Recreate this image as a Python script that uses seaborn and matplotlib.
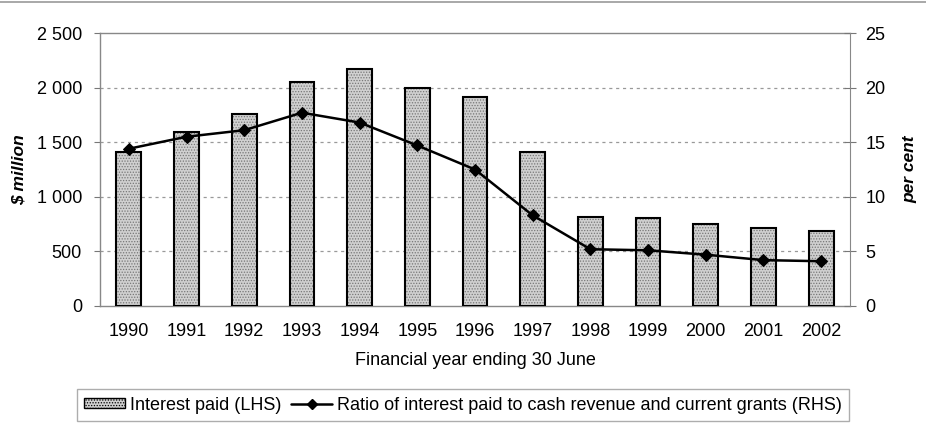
import matplotlib
matplotlib.use("Agg")
import matplotlib.pyplot as plt
import seaborn as sns
import pandas as pd
from matplotlib.patches import Patch
from matplotlib.lines import Line2D
from matplotlib.ticker import FuncFormatter

years = ["1990", "1991", "1992", "1993", "1994", "1995", "1996",
         "1997", "1998", "1999", "2000", "2001", "2002"]
interest_paid = [1410, 1590, 1760, 2050, 2170, 2000, 1915,
                 1410, 818, 806, 754, 711, 684]
ratio_pct = [14.4, 15.5, 16.1, 17.7, 16.8, 14.7, 12.5,
             8.3, 5.2, 5.1, 4.7, 4.2, 4.1]
bar_label = "Interest paid (LHS)"
line_label = "Ratio of interest paid to cash revenue and current grants (RHS)"

sns.set_style("white")
plt.rcParams["font.family"] = ["Liberation Sans", "DejaVu Sans"]
plt.rcParams["text.color"] = "black"
plt.rcParams["axes.labelcolor"] = "black"
plt.rcParams["xtick.color"] = "black"
plt.rcParams["ytick.color"] = "black"
plt.rcParams["hatch.linewidth"] = 0.6
plt.rcParams["hatch.color"] = "#777777"

FS = 13

df = pd.DataFrame({"year": years, "interest": interest_paid, "ratio": ratio_pct})

fig = plt.figure(figsize=(9.26, 4.25), dpi=100)
ax = fig.add_axes([100/926, 1-306/425, 750/926, 273/425])

# hatched fill
sns.barplot(data=df, x="year", y="interest", ax=ax, color="#d0d0d0",
            width=0.43, saturation=1, linewidth=0, hatch="......",
            edgecolor="#777777", zorder=2)
# black outlines
sns.barplot(data=df, x="year", y="interest", ax=ax, fill=False,
            width=0.43, linewidth=1.5, edgecolor="black", zorder=3)

ax.set_xlim(-0.5, len(years) - 0.5)
ax.set_ylim(0, 2500)
ax.set_yticks(range(0, 2501, 500))
ax.yaxis.set_major_formatter(FuncFormatter(lambda v, p: f"{int(v):,}".replace(",", " ")))
ax.set_xticks(range(len(years)))
ax.set_xticklabels(years)
ax.set_xticks([i - 0.5 for i in range(len(years) + 1)], minor=True)
ax.tick_params(axis="x", which="major", length=0, pad=12, labelsize=FS)
ax.tick_params(axis="x", which="minor", length=10, direction="inout", color="#555555", width=1)
ax.tick_params(axis="y", length=4, direction="out", color="#777777", labelsize=FS, pad=9, left=True)
for y in range(500, 2500, 500):
    ax.axhline(y, color="#999999", linestyle=(0, (2.5, 3)), linewidth=0.9, zorder=1)
for s in ["left", "bottom", "top"]:
    ax.spines[s].set_color("#888888")
    ax.spines[s].set_linewidth(1)
ax.spines["right"].set_visible(False)
ax.set_xlabel("Financial year ending 30 June", fontsize=FS, labelpad=9)
ax.set_ylabel("$ million", fontsize=12.5, fontweight="bold", fontstyle="italic", labelpad=7)

ax2 = ax.twinx()
sns.lineplot(data=df, x="year", y="ratio", ax=ax2, color="black", linewidth=1.8,
             marker="D", markersize=6.5, markeredgecolor="black", zorder=5)
ax2.set_ylim(0, 25)
ax2.set_yticks(range(0, 26, 5))
ax2.tick_params(axis="y", length=8, direction="inout", color="#777777", labelsize=FS, pad=7, right=True)
ax2.set_ylabel("per cent", fontsize=12.5, fontweight="bold", fontstyle="italic", labelpad=12)
for s in ["left", "bottom", "top"]:
    ax2.spines[s].set_visible(False)
ax2.spines["right"].set_color("#888888")
ax2.set_xlim(-0.5, len(years) - 0.5)

handles = [Patch(facecolor="#d0d0d0", edgecolor="black", hatch="......", linewidth=1),
           Line2D([0], [0], color="black", linewidth=1.8, marker="D", markersize=5)]
leg = fig.legend(handles, [bar_label, line_label], loc="center",
                 bbox_to_anchor=(463/926, 1-405/425), ncol=2, frameon=True,
                 fancybox=False, edgecolor="#999999", fontsize=FS,
                 handlelength=2.25, handleheight=0.5, handletextpad=0.28,
                 columnspacing=0.55, borderpad=0.4, borderaxespad=0)
leg.get_frame().set_linewidth(1)

fig.add_artist(Line2D([0, 1], [1-2/425, 1-2/425], transform=fig.transFigure,
                      color="#999999", linewidth=1.2))

fig.savefig("out.png", dpi=100)
